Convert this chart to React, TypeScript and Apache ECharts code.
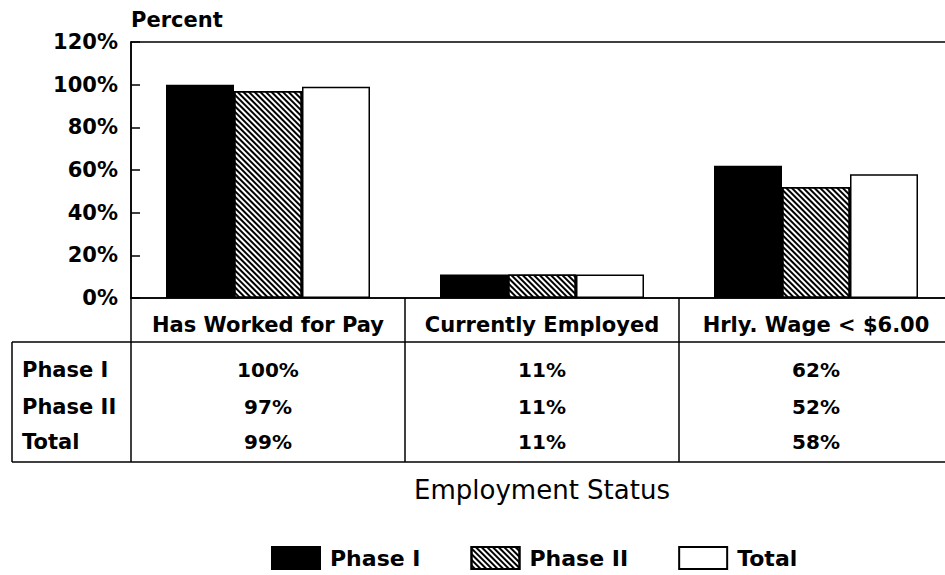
import React, { useEffect, useRef } from "react";
import * as echarts from "echarts";

const categories = ["Has Worked for Pay", "Currently Employed", "Hrly. Wage < $6.00"];
const seriesNames = ["Phase I", "Phase II", "Total"];
const phase1 = [100, 11, 62];
const phase2 = [97, 11, 52];
const total = [99, 11, 58];
const yMin = 0;
const yMax = 120;
const yStep = 20;

const FONT = "DejaVu Sans";

export default function App() {
  const ref = useRef<HTMLDivElement>(null);

  useEffect(() => {
    const chart = echarts.init(ref.current!, null, { renderer: "svg" });
    const barBase = { borderColor: "#000", borderWidth: 1.5 };
    const option: any = {
      animation: false,
      backgroundColor: "#fff",
      textStyle: { fontFamily: FONT, color: "#000" },
      grid: {
        left: 131,
        top: 42,
        width: 822,
        height: 256,
        outerBoundsMode: "none",
        containLabel: false,
        show: true,
        borderColor: "#000",
        borderWidth: 1.5,
        backgroundColor: "transparent",
      },
      legend: {
        left: 271,
        top: 546,
        padding: 0,
        icon: "rect",
        itemWidth: 48,
        itemHeight: 22,
        itemGap: 50,
        selectedMode: false,
        textStyle: {
          fontFamily: FONT,
          fontWeight: "bold",
          fontSize: 22,
          color: "#000",
          padding: [0, 0, 0, 5],
        },
        data: seriesNames,
      },
      xAxis: {
        type: "category",
        data: categories,
        name: "Employment Status",
        nameLocation: "middle",
        nameGap: 179,
        nameTextStyle: { fontFamily: FONT, fontSize: 26, color: "#000" },
        axisLine: { lineStyle: { color: "#000", width: 1.5 } },
        axisTick: { show: true, length: 164, lineStyle: { color: "#000", width: 1.5 } },
        axisLabel: {
          interval: 0,
          margin: 16,
          fontFamily: FONT,
          fontWeight: "bold",
          fontSize: 21,
          color: "#000",
          hideOverlap: false,
        },
      },
      yAxis: {
        type: "value",
        min: yMin,
        max: yMax,
        interval: yStep,
        name: "Percent",
        nameLocation: "end",
        nameGap: 12,
        nameTextStyle: {
          fontFamily: FONT,
          fontWeight: "bold",
          fontSize: 21,
          color: "#000",
          align: "left",
        },
        axisLine: { show: true, lineStyle: { color: "#000", width: 1.5 } },
        axisTick: { show: true, inside: true, length: 9, lineStyle: { color: "#000", width: 1.5 } },
        splitLine: { show: false },
        axisLabel: {
          margin: 13,
          fontFamily: FONT,
          fontWeight: "bold",
          fontSize: 21,
          color: "#000",
          formatter: "{value}%",
        },
      },
      series: [
        {
          name: seriesNames[0],
          type: "bar",
          data: phase1,
          barWidth: 68,
          barGap: "0%",
          itemStyle: { ...barBase, color: "#000" },
        },
        {
          name: seriesNames[1],
          type: "bar",
          data: phase2,
          barWidth: 68,
          barGap: "0%",
          itemStyle: {
            ...barBase,
            color: "#fff",
            decal: {
              symbol: "rect",
              symbolSize: 1,
              color: "#000",
              backgroundColor: "#fff",
              dashArrayX: [1, 0],
              dashArrayY: [1.5, 2],
              rotation: Math.PI / 4,
            },
          },
        },
        {
          name: seriesNames[2],
          type: "bar",
          data: total,
          barWidth: 68,
          barGap: "0%",
          itemStyle: { ...barBase, color: "#fff" },
        },
      ],
    };
    chart.setOption(option);

    const xs = categories.map((_, i) => chart.convertToPixel({ xAxisIndex: 0 }, i) as number);
    const rowY = [370, 407, 442];
    const rows = [phase1, phase2, total];
    const lineStyle = { stroke: "#000", lineWidth: 1.5 };
    const graphic: any[] = [
      { type: "line", shape: { x1: 12, y1: 342, x2: 945, y2: 342 }, style: lineStyle },
      { type: "line", shape: { x1: 12, y1: 462, x2: 945, y2: 462 }, style: lineStyle },
      { type: "line", shape: { x1: 12, y1: 342, x2: 12, y2: 462 }, style: lineStyle },
    ];
    seriesNames.forEach((name, r) => {
      graphic.push({
        type: "text",
        x: 22,
        y: rowY[r],
        style: {
          text: name,
          fontFamily: FONT,
          fontWeight: "bold",
          fontSize: 21,
          fill: "#000",
          textAlign: "left",
          textVerticalAlign: "middle",
        },
      });
      rows[r].forEach((v, c) => {
        graphic.push({
          type: "text",
          x: xs[c],
          y: rowY[r],
          style: {
            text: `${v}%`,
            fontFamily: FONT,
            fontWeight: "bold",
            fontSize: 20,
            fill: "#000",
            textAlign: "center",
            textVerticalAlign: "middle",
          },
        });
      });
    });
    chart.setOption({ graphic });

    return () => chart.dispose();
  }, []);

  return (
    <div
      ref={ref}
      style={{ position: "fixed", left: 0, top: 0, width: 945, height: 575, background: "#fff" }}
    />
  );
}
